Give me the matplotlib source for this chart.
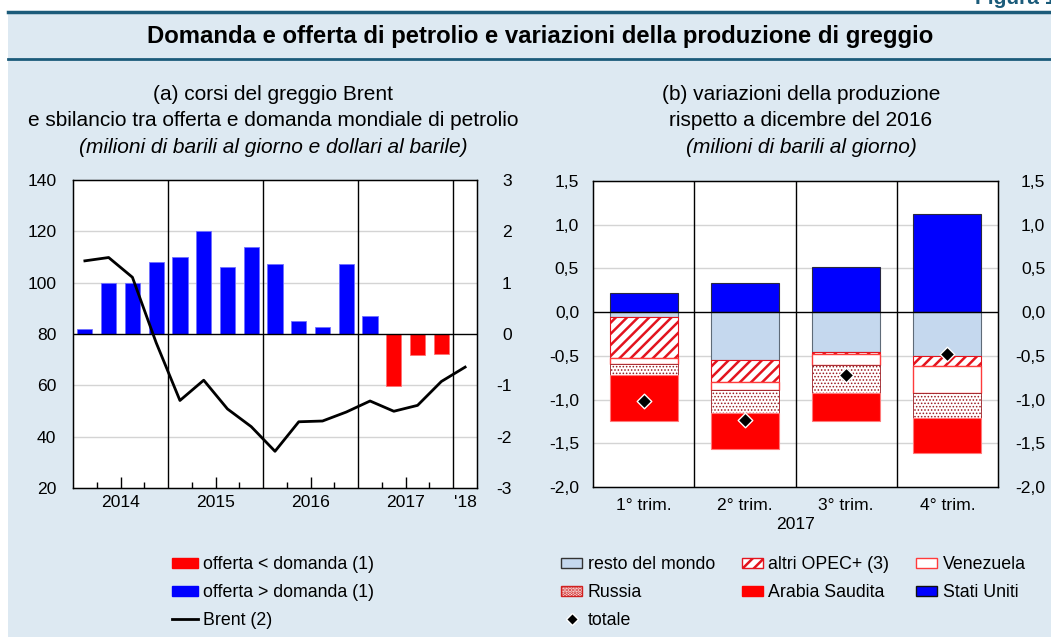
import numpy as np
import matplotlib.pyplot as plt
from matplotlib.patches import Patch, Rectangle
from matplotlib.lines import Line2D

plt.rcParams['font.family'] = ['Liberation Sans', 'DejaVu Sans']
plt.rcParams['font.size'] = 12.6
plt.rcParams['hatch.linewidth'] = 1.8

W, H = 1051, 637
BG = '#dde9f2'
TEAL = '#1b5b7a'
GRID = '#d4d4d4'

# (a) quarterly data 2014Q1 .. 2017Q4 (bars), 2014Q1 .. 2018Q1 (Brent)
balance = [0.10, 1.00, 1.00, 1.40, 1.50, 2.00, 1.30, 1.70,
           1.36, 0.25, 0.13, 1.37, 0.36, -1.02, -0.40, -0.38]
brent = [108.5, 109.8, 102.1, 76.6, 54.1, 62.0, 50.8, 43.9, 34.3,
         45.8, 46.1, 49.6, 53.9, 49.9, 52.2, 61.5, 67.1]
year_labels = ['2014', '2015', '2016', '2017', "'18"]

# (b) changes vs December 2016, 2017 quarters
trims = ['1° trim.', '2° trim.', '3° trim.', '4° trim.']
stati_uniti = [0.22, 0.33, 0.52, 1.12]
resto = [-0.06, -0.55, -0.46, -0.50]
altri_opec = [-0.47, -0.25, -0.02, -0.12]
venezuela = [-0.06, -0.09, -0.13, -0.30]
russia = [-0.13, -0.26, -0.31, -0.29]
arabia = [-0.53, -0.42, -0.33, -0.40]
totale = [-1.02, -1.23, -0.72, -0.48]


def fx(px):
    return px / W


def fy(py):
    return 1 - py / H


fig = plt.figure(figsize=(W / 100, H / 100), dpi=100)
fig.patch.set_facecolor('white')
fig.patches.append(Rectangle((fx(8), 0), 1 - fx(8), fy(12), transform=fig.transFigure,
                             facecolor=BG, edgecolor='none', zorder=-10))
fig.add_artist(Line2D([fx(8), 1], [fy(12), fy(12)], color=TEAL, lw=2.5))
fig.add_artist(Line2D([fx(8), 1], [fy(59), fy(59)], color=TEAL, lw=2))
fig.text(fx(1056), fy(4), 'Figura 1', color=TEAL, fontsize=15, fontweight='bold',
         ha='right', va='baseline')
fig.text(fx(540), fy(37), 'Domanda e offerta di petrolio e variazioni della produzione di greggio',
         fontsize=17.2, fontweight='bold', ha='center', va='center')

# subtitles
for cx, lines in [(273, ['(a) corsi del greggio Brent',
                         'e sbilancio tra offerta e domanda mondiale di petrolio',
                         '(milioni di barili al giorno e dollari al barile)']),
                  (801, ['(b) variazioni della produzione',
                         'rispetto a dicembre del 2016',
                         '(milioni di barili al giorno)'])]:
    for k, (txt, yy) in enumerate(zip(lines, [95, 121, 147])):
        fig.text(fx(cx), fy(yy), txt, ha='center', va='center', fontsize=15,
                 style='italic' if k == 2 else 'normal')

# ---------------- panel (a)
t_bars = 2014.125 + 0.25 * np.arange(len(balance))
t_brent = 2014.125 + 0.25 * np.arange(len(brent))

ax = fig.add_axes([fx(73), fy(488), 404 / W, 308 / H])
ax.set_facecolor('white')
cols = ['#ff0000' if v < 0 else '#0000ff' for v in balance]
ecols = ['#ff7070' if v < 0 else '#7070ff' for v in balance]
ax.bar(t_bars, balance, width=0.16, color=cols, edgecolor=ecols, lw=0.6, zorder=2)
for v in [-2, -1, 1, 2]:
    ax.axhline(v, color=GRID, lw=1, zorder=0)
ax.axhline(0, color='black', lw=1, zorder=3)
for yr in [2015, 2016, 2017, 2018]:
    ax.axvline(yr, color='black', lw=1, zorder=3)
ax.set_xlim(2014, 2018.25)
ax.set_ylim(-3, 3)
ax.set_xticks([2014.5, 2015.5, 2016.5, 2017.5, 2018.125], year_labels)
ax.set_xticks([2014.25, 2014.75, 2015.25, 2015.75, 2016.25, 2016.75, 2017.25, 2017.75], minor=True)
ax.tick_params(axis='x', which='major', direction='in', length=8, width=1, pad=5)
ax.tick_params(axis='x', which='minor', direction='in', length=4, width=1)
ax.xaxis.get_major_ticks()[-1].tick1line.set_visible(False)
for s in ax.spines.values():
    s.set_color('black')
    s.set_linewidth(1)

axb = ax.twinx()
axb.plot(t_brent, brent, color='black', lw=2, zorder=4)
axb.set_ylim(20, 140)
axb.yaxis.tick_left()
axb.set_yticks([20, 40, 60, 80, 100, 120, 140])
axb.tick_params(axis='y', length=0, pad=12)

# bar scale on the right (after twinx, which resets it)
ax.yaxis.tick_right()
ax.set_yticks([3, 2, 1, 0, -1, -2, -3], ['3', '2', '1', '0', '-1', '-2', '-3'], ha='right')
ax.tick_params(axis='y', length=0, pad=25)

# ---------------- panel (b)
x = np.arange(len(trims))
bw = 0.67
ax2 = fig.add_axes([fx(593), fy(487), 405 / W, 306 / H])
ax2.set_facecolor('white')
for v in [1.0, 0.5, -0.5, -1.0, -1.5]:
    ax2.axhline(v, color=GRID, lw=1, zorder=0)

ax2.bar(x, stati_uniti, bw, color='#0000ff', edgecolor='#2a2a40', lw=0.8, zorder=2)
styles = [
    (resto, dict(color='#c5d8ee', edgecolor='#5f6b78', lw=0.8), 1.8),
    (altri_opec, dict(facecolor='white', edgecolor='#e3141e', hatch='///', lw=0.8), 1.8),
    (venezuela, dict(facecolor='white', edgecolor='#ff3b3b', lw=1.0), 1.8),
    (russia, dict(facecolor='white', edgecolor='#9b1c22', hatch='.....', lw=0.6), 0.7),
    (arabia, dict(color='#ff0000', edgecolor='#ff7a7a', lw=0.8), 1.8),
]
bottom = np.zeros(len(trims))
for vals, kw, hlw in styles:
    with plt.rc_context({'hatch.linewidth': hlw}):
        ax2.bar(x, vals, bw, bottom=bottom, zorder=2, **kw)
    bottom = bottom + np.array(vals)
ax2.scatter(x, totale, marker='D', s=55, color='black', edgecolors='white', linewidths=1, zorder=5)
ax2.axhline(0, color='black', lw=1, zorder=3)
for v in [0.5, 1.5, 2.5]:
    ax2.axvline(v, color='black', lw=1, zorder=3)
ax2.set_xlim(-0.5, 3.5)
ax2.set_ylim(-2.0, 1.5)
yt = [1.5, 1.0, 0.5, 0.0, -0.5, -1.0, -1.5, -2.0]
ylab = [f'{v:.1f}'.replace('.', ',') for v in yt]
ax2.set_xticks(x, trims)
ax2.tick_params(axis='x', length=0, pad=8)
ax2.set_xlabel('2017', labelpad=3)
for s in ax2.spines.values():
    s.set_color('black')
    s.set_linewidth(1)
ax2r = ax2.twinx()
ax2r.set_ylim(-2.0, 1.5)
ax2r.set_yticks(yt, ylab, ha='right')
ax2r.tick_params(axis='y', length=0, pad=34)
ax2.yaxis.tick_left()
ax2.set_yticks(yt, ylab)
ax2.tick_params(axis='y', length=0, pad=10)

# ---------------- legends
h_left = [Patch(color='#ff0000', label='offerta < domanda (1)'),
          Patch(color='#0000ff', label='offerta > domanda (1)'),
          Line2D([], [], color='black', lw=2, label='Brent (2)')]
fig.legend(handles=h_left, loc='upper left', bbox_to_anchor=(fx(172), fy(556)),
           frameon=False, borderpad=0, borderaxespad=0, handlelength=1.45, handleheight=0.5,
           handletextpad=0.3, labelspacing=0.62, fontsize=12.8)

with plt.rc_context({'hatch.linewidth': 1.5}):
    p_opec = Patch(facecolor='white', edgecolor='#e3141e', hatch='///', lw=1, label='altri OPEC+ (3)')
with plt.rc_context({'hatch.linewidth': 0.7}):
    p_rus = Patch(facecolor='white', edgecolor='#d02020', hatch='.....', lw=1, label='Russia')
h_right = [Patch(facecolor='#c5d8ee', edgecolor='#333333', lw=1, label='resto del mondo'),
           p_rus,
           Line2D([], [], marker='D', ls='none', color='black', markeredgecolor='white',
                  markersize=6, label='totale'),
           p_opec,
           Patch(color='#ff0000', label='Arabia Saudita'),
           Patch(facecolor='white', edgecolor='#ff3b3b', lw=1, label='Venezuela'),
           Patch(facecolor='#0000ff', edgecolor='#111111', lw=1, label='Stati Uniti')]
fig.legend(handles=h_right, loc='upper left', bbox_to_anchor=(fx(561), fy(556)), ncol=3,
           frameon=False, borderpad=0, borderaxespad=0, handlelength=1.2, handleheight=0.5,
           handletextpad=0.3, labelspacing=0.62, columnspacing=1.5, fontsize=12.8)

fig.savefig('out.png', dpi=100, facecolor=fig.get_facecolor())
